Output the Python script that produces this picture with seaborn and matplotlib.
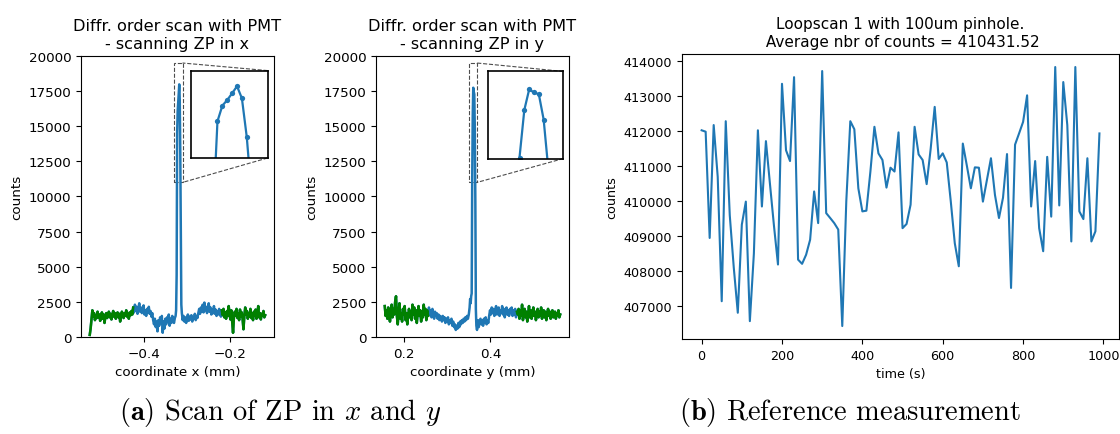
import numpy as np
import pandas as pd
import matplotlib
matplotlib.use("Agg")
import matplotlib.pyplot as plt
import seaborn as sns
from mpl_toolkits.axes_grid1.inset_locator import mark_inset

# ---------------- data ----------------
# ZP scan in x: background counts on a 2 um grid, fine samples across the peak
xscan_left_range = (-0.524, -0.328)
xscan_left_counts = [
    150, 600, 1250, 1900, 1450, 1700, 1200, 1550, 1350, 1800,
    1400, 1600, 1150, 1500, 1750, 1300, 1600, 1000, 1450, 1700,
    1350, 1550, 1800, 1400, 1650, 1250, 1550, 1850, 1450, 1700,
    1300, 1600, 1750, 1400, 1650, 1100, 1500, 1800, 1550, 1350,
    1700, 1500, 1900, 1450, 1650, 1300, 1750, 1550, 1850, 1600,
    2100, 1750, 2300, 1900, 2150, 1650, 2000, 2400, 1800, 2100,
    1700, 1950, 2250, 1600, 1900, 1500, 2000, 1750, 2150, 1650,
    1850, 1450, 1700, 1200, 900, 1300, 700, 1100, 400, 1200,
    800, 1400, 1000, 1500, 300, 1100, 600, 1300, 900, 1400,
    1100, 1600, 800, 1300, 1000, 1500, 1200, 1000, 1350,
]
xscan_peak_pos = [-0.3263, -0.3251, -0.3239, -0.3227, -0.3215, -0.3203, -0.3191,
                  -0.3179, -0.3167, -0.3155, -0.3143, -0.3131, -0.3119]
xscan_peak_counts = [1500, 1900, 4400, 14570, 16090, 16640, 17290,
                     17980, 16800, 13010, 7200, 2300, 1700]
xscan_right_range = (-0.310, -0.120)
xscan_right_counts = [
    1200, 1500, 1100, 1400, 1000, 1350, 1600, 1150, 1450, 1250,
    1550, 1100, 1400, 1300, 1650, 1200, 1500, 1350, 1700, 2000,
    1650, 2100, 1800, 2300, 1750, 2450, 1900, 2150, 1700, 2000,
    2400, 1800, 2100, 1600, 1950, 1700, 2200, 1650, 1950, 1500,
    1850, 1600, 2000, 1700, 1450, 1900, 1550, 2000, 1400, 1750,
    1300, 1850, 1500, 2200, 1600, 1250, 1900, 1100, 300, 1400,
    1800, 1500, 2000, 1350, 1700, 1200, 1950, 1450, 1750, 1300,
    550, 1500, 2100, 1600, 1850, 1300, 1700, 1450, 2000, 1350,
    1650, 1200, 1800, 1500, 1950, 1300, 1600, 2200, 1400, 1700,
    1250, 1650, 1500, 1850, 1400, 1550,
]

# ZP scan in y
yscan_left_range = (0.156, 0.350)
yscan_left_counts = [
    2200, 1500, 1900, 1300, 2100, 1700, 1100, 1800, 2300, 1400,
    2000, 1600, 2500, 2900, 1500, 900, 1800, 2400, 1300, 1700,
    1100, 2000, 1600, 2200, 1200, 1700, 900, 1500, 2000, 1400,
    1800, 1200, 2300, 1600, 2100, 1300, 1900, 1000, 1700, 2200,
    1500, 1900, 1100, 1800, 1400, 2300, 1600, 2000, 1200, 1900,
    1500, 2100, 1600, 1900, 1400, 2000, 1700, 1300, 1800, 1500,
    1700, 1300, 1600, 1200, 1500, 1400, 1100, 1500, 1200, 1400,
    1000, 1300, 1100, 1400, 900, 1200, 1000, 1300, 800, 1100,
    700, 900, 500, 800, 600, 1000, 700, 1100, 900, 1200,
    1000, 1300, 1100, 1400, 1200, 1500, 1300, 1600,
]
yscan_peak_pos = [0.3519, 0.3531, 0.3543, 0.3555, 0.3567, 0.3579, 0.3591,
                  0.3603, 0.3615, 0.3627, 0.3639, 0.3651, 0.3663, 0.3675]
yscan_peak_counts = [2100, 2700, 2400, 2900, 3100, 11100, 15750,
                     17740, 17450, 17280, 14810, 9800, 2000, 800]
yscan_right_range = (0.369, 0.561)
yscan_right_counts = [
    500, 1200, 700, 1100, 1300, 900, 1200, 800, 1300, 1000,
    1400, 900, 1200, 1000, 1500, 1900, 1600, 2100, 1700, 2000,
    1500, 1900, 2200, 1600, 1800, 2100, 1500, 1900, 1700, 2200,
    1600, 2000, 1400, 1800, 2100, 1600, 1900, 1500, 2000, 1700,
    2100, 1500, 1900, 1600, 2000, 1400, 1800, 1600, 2000, 1300,
    1900, 1500, 2300, 1200, 1700, 2000, 1400, 1800, 1100, 1600,
    2200, 1400, 1900, 1300, 1700, 2100, 1500, 1800, 1200, 1700,
    2000, 1400, 1800, 1500, 2100, 1300, 1700, 1900, 1400, 1800,
    1200, 1600, 2000, 1500, 1800, 1300, 1700, 1900, 1400, 1600,
    1800, 1300, 1700, 1500, 1900, 1400, 1600,
]

# Reference measurement: loop scan, one reading every 10 s
loop_step_s = 10
loop_counts = [
    412030, 411990, 408950, 412180, 410700, 407140, 412290, 409600, 408100, 406810,
    409330, 409990, 406570, 408500, 412030, 409850, 411720, 410500, 409300, 408190,
    413360, 411460, 411150, 413550, 408330, 408210, 408470, 408900, 410280, 409375,
    413725, 409660, 409520, 409375, 409190, 406430, 410000, 412290, 412060, 410370,
    409710, 409730, 410850, 412130, 411370, 411180, 410390, 410960, 410850, 411970,
    409230, 409350, 409900, 412130, 411340, 411180, 410490, 411500, 412700, 411210,
    411370, 411110, 410000, 408800, 408140, 411650, 411020, 410370, 410970, 410960,
    409990, 410610, 411230, 410180, 409520, 410100, 411350, 407520, 411620, 411940,
    412270, 413030, 409850, 411150, 409230, 408570, 411270, 409560, 413840, 409880,
    413410, 412180, 408850, 413840, 409710, 409490, 411230, 408850, 409140, 411940,
]

x_ticks = [-0.4, -0.2]
y_ticks_scan = [0.2, 0.4]
count_ticks = list(range(0, 20001, 2500))


def build_scan(left_range, left_counts, peak_pos, peak_counts, right_range, right_counts):
    pos = np.concatenate([
        np.linspace(*left_range, len(left_counts)),
        np.asarray(peak_pos),
        np.linspace(*right_range, len(right_counts)),
    ])
    cnt = np.concatenate([left_counts, peak_counts, right_counts]).astype(float)
    return pd.DataFrame({"pos": pos, "counts": cnt})


scan_x = build_scan(xscan_left_range, xscan_left_counts, xscan_peak_pos,
                    xscan_peak_counts, xscan_right_range, xscan_right_counts)
scan_y = build_scan(yscan_left_range, yscan_left_counts, yscan_peak_pos,
                    yscan_peak_counts, yscan_right_range, yscan_right_counts)
loop = pd.DataFrame({"time": np.arange(len(loop_counts)) * loop_step_s,
                     "counts": loop_counts})

# ---------------- drawing ----------------
BLUE = "#1f77b4"
GREEN = "green"
SCAN_LW = 1.8
plt.rcParams["mathtext.fontset"] = "cm"

fig = plt.figure(figsize=(11.2, 4.35), dpi=100)
ax1 = fig.add_axes([0.0723, 0.223, 0.1723, 0.646])
ax2 = fig.add_axes([0.3357, 0.223, 0.1723, 0.646])
ax3 = fig.add_axes([0.6087, 0.2184, 0.3907, 0.655])


def draw_scan(ax, df, title, xlabel, xticks, inset_rect, inset_xlim, fs=9.7):
    sns.lineplot(data=df, x="pos", y="counts", ax=ax, color=BLUE, lw=SCAN_LW,
                 sort=False, estimator=None)
    lo, hi = df["pos"].min(), df["pos"].max()
    quarter = 0.25 * (hi - lo)
    for part in (df[df["pos"] <= lo + quarter], df[df["pos"] >= hi - quarter]):
        sns.lineplot(data=part, x="pos", y="counts", ax=ax, color=GREEN, lw=SCAN_LW,
                     sort=False, estimator=None)
    ax.set_ylim(0, 20000)
    ax.set_yticks(count_ticks)
    ax.set_xticks(xticks)
    ax.tick_params(labelsize=fs)
    ax.set_xlabel(xlabel, fontsize=fs)
    ax.set_ylabel("counts", fontsize=fs)
    ax.set_title(title, fontsize=fs * 1.2)

    axins = ax.inset_axes(inset_rect)
    sns.lineplot(data=df, x="pos", y="counts", ax=axins, color=BLUE, lw=1.6,
                 marker="o", markersize=3.8, markeredgewidth=0,
                 sort=False, estimator=None)
    axins.set_xlim(*inset_xlim)
    axins.set_ylim(11000, 19500)
    axins.set_xticks([])
    axins.set_yticks([])
    axins.set_xlabel("")
    axins.set_ylabel("")
    for sp in axins.spines.values():
        sp.set_linewidth(1.2)
    mark_inset(ax, axins, loc1=1, loc2=4, fc="none", ec="0.3", ls="--", lw=0.8)


draw_scan(ax1, scan_x, "Diffr. order scan with PMT\n- scanning ZP in x",
          "coordinate x (mm)", x_ticks, [0.570, 0.637, 0.397, 0.311], (-0.3292, -0.3104))
draw_scan(ax2, scan_y, "Diffr. order scan with PMT\n- scanning ZP in y",
          "coordinate y (mm)", y_ticks_scan, [0.579, 0.635, 0.392, 0.310], (0.3500, 0.3688))

sns.lineplot(data=loop, x="time", y="counts", ax=ax3, color=BLUE, lw=1.5,
             sort=False, estimator=None)
ax3.ticklabel_format(axis="y", style="plain", useOffset=False)
ax3.tick_params(labelsize=9.2)
ax3.set_xlabel("time (s)", fontsize=9.2)
ax3.set_ylabel("counts", fontsize=9.2)
ax3.set_title("Loopscan 1 with 100um pinhole.\n Average nbr of counts = 410431.52",
              fontsize=11)

cap_kw = dict(ha="center", va="baseline", fontsize=20.5, family="cmr10")
fig.text(0.25, 0.035, r"$\mathbf{(a)}$ Scan of ZP in $x$ and $y$", **cap_kw)
fig.text(0.759, 0.035, r"$\mathbf{(b)}$ Reference measurement", **cap_kw)

fig.savefig("out.png", dpi=100)
